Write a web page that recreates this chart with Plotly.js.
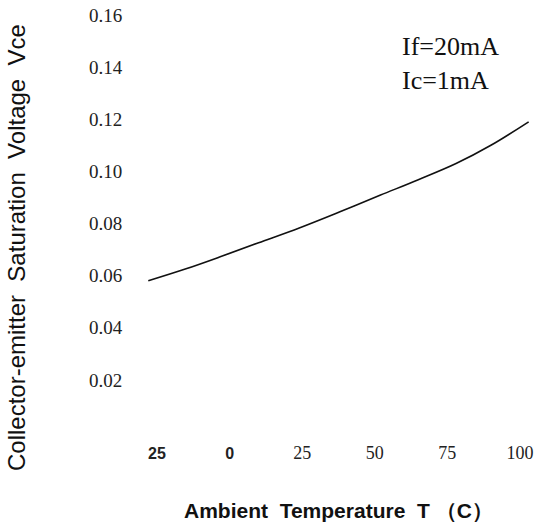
<!DOCTYPE html>
<html>
<head>
<meta charset="utf-8">
<script src="https://cdn.plot.ly/plotly-3.0.1.min.js"></script>
<style>
html,body{margin:0;padding:0;background:#fff;}
#chart{width:538px;height:528px;}
</style>
</head>
<body>
<div id="chart"></div>
<script>
// Data
const temperature = [-28, -15, -3, 10, 24, 38, 52, 65, 78, 90, 103];
const vceSat = [0.058, 0.0626, 0.0673, 0.0726, 0.0783, 0.0845, 0.0909, 0.0968, 0.1030, 0.1100, 0.1190];

const xTickVals = [-25, 0, 25, 50, 75, 100];
const xTickText = [
  '<span style="font-family:Liberation Sans;font-weight:bold;font-size:16px">25</span>',
  '<span style="font-family:Liberation Sans;font-weight:bold;font-size:16px">0</span>',
  '25', '50', '75', '100'
];
const yTickVals = [0.02, 0.04, 0.06, 0.08, 0.10, 0.12, 0.14, 0.16];
const yTickText = ['0.02', '0.04', '0.06', '0.08', '0.10', '0.12', '0.14', '0.16'];

const serif = 'Liberation Serif, Times New Roman, serif';
const sans = 'Liberation Sans, Arial, sans-serif';

const trace = {
  x: temperature,
  y: vceSat,
  type: 'scatter',
  mode: 'lines',
  line: {color: '#111', width: 1.6, shape: 'spline', smoothing: 1},
  hoverinfo: 'skip',
  showlegend: false
};

const layout = {
  width: 538,
  height: 528,
  margin: {l: 140, r: 5, t: 10, b: 88},
  paper_bgcolor: '#fff',
  plot_bgcolor: '#fff',
  font: {family: serif, size: 18, color: '#222'},
  xaxis: {
    range: [-30.85, 104.5],
    tickvals: xTickVals,
    ticktext: xTickText,
    showgrid: false,
    zeroline: false,
    showline: false,
    ticks: '',
    tickfont: {family: serif, size: 18, color: '#222'},
    fixedrange: true
  },
  yaxis: {
    range: [-0.00307, 0.1619],
    tickvals: yTickVals,
    ticktext: yTickText,
    showgrid: false,
    zeroline: false,
    showline: false,
    ticks: 'outside',
    ticklen: 13,
    tickcolor: 'rgba(0,0,0,0)',
    tickfont: {family: serif, size: 19, color: '#222'},
    fixedrange: true
  },
  annotations: [
    {
      text: 'If=20mA', xref: 'paper', yref: 'paper', x: 0.6616, y: 0.914,
      xanchor: 'left', yanchor: 'middle', showarrow: false,
      font: {family: serif, size: 26, color: '#111'}
    },
    {
      text: 'Ic=1mA', xref: 'paper', yref: 'paper', x: 0.6616, y: 0.837,
      xanchor: 'left', yanchor: 'middle', showarrow: false,
      font: {family: serif, size: 26, color: '#111'}
    },
    {
      text: 'Collector-emitter\u00a0\u00a0Saturation\u00a0\u00a0Voltage\u00a0\u00a0Vce',
      xref: 'paper', yref: 'paper', x: -0.3155, y: 0.4465,
      xanchor: 'center', yanchor: 'middle', textangle: -90, showarrow: false,
      font: {family: sans, size: 24, color: '#111'}
    },
    {
      text: '<b>Ambient\u00a0\u00a0Temperature\u00a0\u00a0T\u00a0（C）</b>',
      xref: 'paper', yref: 'paper', x: 0.506, y: -0.1628,
      xanchor: 'center', yanchor: 'middle', showarrow: false,
      font: {family: sans, size: 21, color: '#111'}
    }
  ]
};

Plotly.newPlot('chart', [trace], layout, {displayModeBar: false, staticPlot: true});
</script>
</body>
</html>
